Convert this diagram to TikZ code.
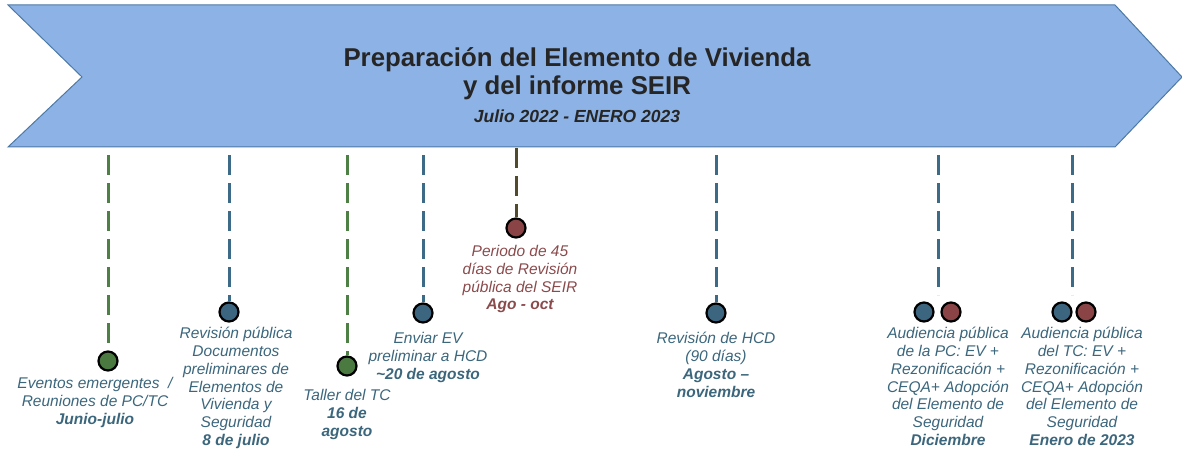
\documentclass[tikz,border=0pt]{standalone}
\usepackage{fontspec}
\setmainfont{Liberation Sans}
\definecolor{arrowfill}{HTML}{8DB2E5}
\definecolor{arrowline}{HTML}{4D79A5}
\definecolor{gline}{HTML}{4E7F45}
\definecolor{bline}{HTML}{3D6A87}
\definecolor{brline}{HTML}{514B2E}
\definecolor{gdot}{HTML}{4A7A3F}
\definecolor{bdot}{HTML}{3C6580}
\definecolor{mdot}{HTML}{8A4446}
\definecolor{txt}{HTML}{3B667C}
\definecolor{mtxt}{HTML}{8B4A4C}
\definecolor{title}{HTML}{262626}
\tikzset{
  dashline/.style={line width=3pt, dash pattern=on 20pt off 8pt},
  dot/.style={circle, draw=black, line width=2.2pt, minimum size=19pt, inner sep=0pt},
  lbl/.style={align=center, inner sep=0pt, anchor=north, text=txt,
    font=\fontsize{15.5}{17.8}\selectfont\itshape},
}
\begin{document}
\begin{tikzpicture}[x=1pt,y=-1pt]
\useasboundingbox (0,0) rectangle (1182,449);
% banner arrow
\draw[fill=arrowfill, draw=arrowline, line width=1pt]
  (8,5) -- (1115,5) -- (1182,77) -- (1115,147) -- (8,147) -- (82,77) -- cycle;
\node[text=title, font=\fontsize{25.8}{28}\selectfont\bfseries, align=center, inner sep=0pt] (t1) at (577,74) {Preparación del Elemento de Vivienda\\y del informe SEIR};
\node[text=title, font=\fontsize{17.5}{19}\selectfont\bfseries\itshape, inner sep=0pt, anchor=base] (t2) at (577,123) {Julio 2022 - ENERO 2023};
% coordinates on banner
\coordinate (c1) at (108,155);
\coordinate (c2) at (229,155);
\coordinate (c3) at (347,155);
\coordinate (c4) at (423,155);
\coordinate (c5) at (516,148);
\coordinate (c6) at (716,155);
\coordinate (c7) at (938,155);
\coordinate (c8) at (1072,155);
% dots
\node[dot, fill=gdot] (d1) at (108,361) {};
\node[dot, fill=bdot] (d2) at (229,312) {};
\node[dot, fill=gdot] (d3) at (347,366) {};
\node[dot, fill=bdot] (d4) at (423,313) {};
\node[dot, fill=mdot] (d5) at (516,228) {};
\node[dot, fill=bdot] (d6) at (716,313) {};
\node[dot, fill=bdot] (d7a) at (924,312) {};
\node[dot, fill=mdot] (d7b) at (951,312) {};
\node[dot, fill=bdot] (d8a) at (1062,312) {};
\node[dot, fill=mdot] (d8b) at (1086,312) {};
\coordinate (e7) at (938,295);
\coordinate (e8) at (1072,295);
% dashed lines
\draw[dashline, draw=gline] (c1) -- (d1.north);
\draw[dashline, draw=bline] (c2) -- (d2.north);
\draw[dashline, draw=gline] (c3) -- (d3.north);
\draw[dashline, draw=bline] (c4) -- (d4.north);
\draw[dashline, draw=brline] (c5) -- (d5.north);
\draw[dashline, draw=bline] (c6) -- (d6.north);
\draw[dashline, draw=bline] (c7) -- (e7);
\draw[dashline, draw=bline] (c8) -- (e8);
% labels
\node[lbl] (l1) at (95,377) {Eventos emergentes \ /\\Reuniones de PC/TC\\\textbf{Junio-julio}};
\node[lbl] (l2) at (236,327) {Revisión pública\\Documentos\\preliminares de\\Elementos de\\Vivienda y\\Seguridad\\\textbf{8 de julio}};
\node[lbl] (l3) at (347,389) {Taller del TC\\\textbf{16 de}\\\textbf{agosto}};
\node[lbl] (l4) at (428,332) {Enviar EV\\preliminar a HCD\\\textbf{\textasciitilde20 de agosto}};
\node[lbl, text=mtxt] (l5) at (520,245) {Periodo de 45\\días de Revisión\\pública del SEIR\\\textbf{Ago - oct}};
\node[lbl] (l6) at (716,332) {Revisión de HCD\\(90 días)\\\textbf{Agosto –}\\\textbf{noviembre}};
\node[lbl] (l7) at (948,327) {Audiencia pública\\de la PC: EV +\\Rezonificación +\\CEQA+ Adopción\\del Elemento de\\Seguridad\\\textbf{Diciembre}};
\node[lbl] (l8) at (1082,327) {Audiencia pública\\del TC: EV +\\Rezonificación +\\CEQA+ Adopción\\del Elemento de\\Seguridad\\\textbf{Enero de 2023}};
\end{tikzpicture}
\end{document}
